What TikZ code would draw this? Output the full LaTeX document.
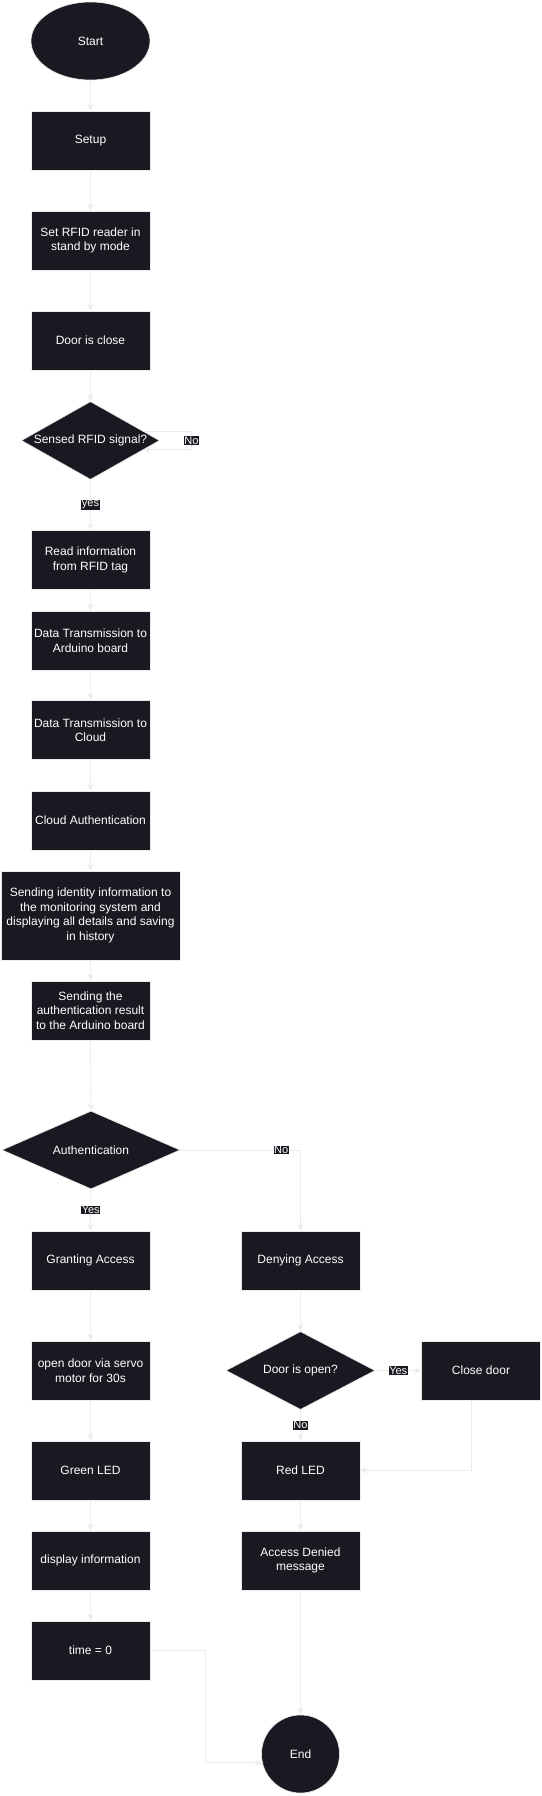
\documentclass[tikz,border=0pt]{standalone}
\usepackage{fontspec}
\setmainfont{Liberation Sans}
\usetikzlibrary{shapes.geometric,arrows.meta}
\definecolor{boxfill}{HTML}{1A1820}
\definecolor{flowline}{HTML}{EBEBEB}

\begin{document}
\begin{tikzpicture}[x=1pt,y=-1pt,font=\fontsize{12}{14.5}\selectfont,
  base/.style={draw=flowline,fill=boxfill,text=white,line width=0.6pt,align=center,inner sep=2pt},
  proc/.style={base,rectangle,minimum width=119pt,minimum height=59pt},
  term/.style={base,ellipse,minimum width=119pt,minimum height=78pt},
  decision/.style={base,diamond,inner sep=0pt,minimum height=78pt},
  conn/.style={draw=flowline,line width=0.8pt,-{Stealth[length=7pt,width=6pt]}},
  edgelab/.style={fill=boxfill,text=white,font=\fontsize{11}{12}\selectfont,inner sep=0.6pt}]

\useasboundingbox[fill=white] (0,0) rectangle (541,1796);

\node[term] (start) at (90.5,41) {Start};
\node[proc] (setup) at (90.5,140.5) {Setup};
\node[proc] (standby) at (90.5,240.5) {Set RFID reader in\\stand by mode};
\node[proc] (closed) at (90.5,340.5) {Door is close};
\node[decision,minimum width=138pt] (sensed) at (90.5,440.5) {\makebox[0pt]{Sensed RFID signal?}};
\node[proc] (readtag) at (90.5,560) {Read information\\from RFID tag};
\node[proc] (toarduino) at (90.5,640.5) {Data Transmission to\\Arduino board};
\node[proc] (tocloud) at (90.5,730) {Data Transmission to\\Cloud};
\node[proc] (cloudauth) at (90.5,820.5) {Cloud Authentication};
\node[proc,minimum width=179pt,minimum height=89pt] (sendid) at (90.5,915.5) {Sending identity information to\\the monitoring system and\\displaying all details and saving\\in history};
\node[proc] (sendres) at (90.5,1010.5) {Sending the\\authentication result\\to the Arduino board};
\node[decision,minimum width=178pt] (auth) at (91,1150) {\makebox[0pt]{Authentication}};

\node[proc] (grant) at (90.5,1260.5) {Granting Access};
\node[proc] (servo) at (90.5,1370.5) {open door via servo\\motor for 30s};
\node[proc] (green) at (90.5,1470.5) {Green LED};
\node[proc] (display) at (90.5,1560.5) {display information};
\node[proc] (timez) at (90.5,1650.5) {time = 0};

\node[proc] (deny) at (300.5,1260.5) {Denying Access};
\node[decision,minimum width=149pt] (dooropen) at (300.5,1370.5) {\makebox[0pt]{Door is open?}};
\node[proc] (closedoor) at (481,1370.5) {Close door};
\node[proc] (red) at (300.5,1470.5) {Red LED};
\node[proc] (denied) at (300.5,1560.5) {Access Denied\\message};
\node[base,circle,minimum size=78pt] (end) at (300.5,1754) {End};

\draw[conn] (start.south) -- (setup.north);
\draw[conn] (setup.south) -- (standby.north);
\draw[conn] (standby.south) -- (closed.north);
\draw[conn] (closed.south) -- (sensed.north);
\draw[conn] (sensed.10) -- ++(48,0) |- node[edgelab,pos=0.25] {No} (sensed.-10);
\draw[conn] (sensed.south) -- node[edgelab] {yes} (readtag.north);
\draw[conn] (readtag.south) -- (toarduino.north);
\draw[conn] (toarduino.south) -- (tocloud.north);
\draw[conn] (tocloud.south) -- (cloudauth.north);
\draw[conn] (cloudauth.south) -- (sendid.north);
\draw[conn] (sendid.south) -- (sendres.north);
\draw[conn] (sendres.south) -- (auth.north);

\draw[conn] (auth.south) -- node[edgelab] {Yes} (grant.north);
\draw[conn] (auth.east) -| node[edgelab,pos=0.42] {No} (deny.north);
\draw[conn] (grant.south) -- (servo.north);
\draw[conn] (servo.south) -- (green.north);
\draw[conn] (green.south) -- (display.north);
\draw[conn] (display.south) -- (timez.north);
\draw[conn] (timez.east) -- ++(55.5,0) |- (end.193);

\draw[conn] (deny.south) -- (dooropen.north);
\draw[conn] (dooropen.east) -- node[edgelab] {Yes} (closedoor.west);
\draw[conn] (dooropen.south) -- node[edgelab] {No} (red.north);
\draw[conn] ([xshift=-10pt]closedoor.south) |- (red.east);
\draw[conn] (red.south) -- (denied.north);
\draw[conn] (denied.south) -- (end.north);

\end{tikzpicture}
\end{document}
